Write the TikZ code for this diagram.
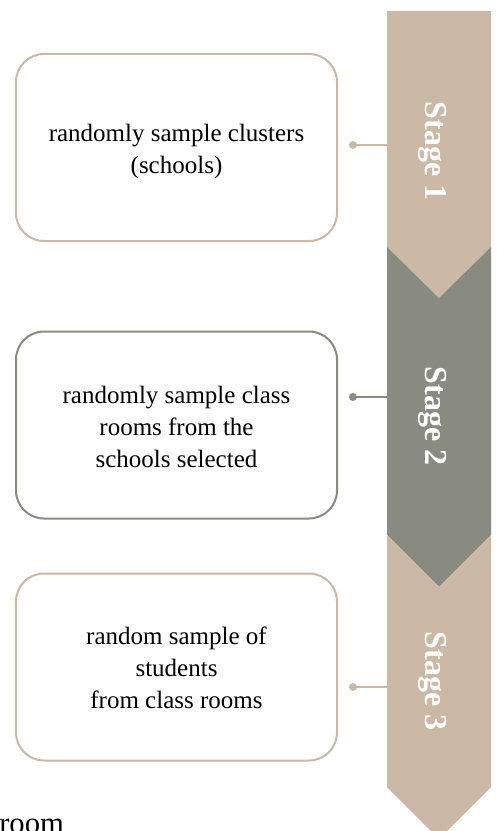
\documentclass[tikz,border=0pt]{standalone}
\usepackage{fontspec}
\setmainfont{Liberation Serif}
\definecolor{sand}{HTML}{CBB9A6}
\definecolor{slate}{HTML}{8A8B80}
\begin{document}
\begin{tikzpicture}[x=0.75pt,y=-0.75pt,
  stepframe/.style={draw=#1, line width=1.5pt, rounded corners=21pt,
    minimum width=240.75pt, minimum height=140.25pt, inner sep=0pt},
  boxtext/.style={align=center, font=\fontsize{18.75}{24}\selectfont, inner sep=0pt},
  stagelabel/.style={rotate=-90, text=white, inner sep=0pt,
    font=\bfseries\fontsize{24}{28}\selectfont},
  link/.style={draw=#1, line width=1.5pt},
  dotmark/.style={circle, fill=#1, minimum size=6pt, inner sep=0pt}]
\useasboundingbox (0,0) rectangle (496,831);

% chevron column
\fill[sand]  (387,11) -- (491,11) -- (491,247) -- (439,298) -- (387,247) -- cycle;
\fill[slate] (387,247) -- (439,298) -- (491,247) -- (491,535) -- (439,587) -- (387,535) -- cycle;
\fill[sand]  (387,535) -- (439,587) -- (491,535) -- (491,787) -- (439,839) -- (387,787) -- cycle;

\node[stagelabel] (st1) at (433,151) {Stage 1};
\node[stagelabel] (st2) at (433,416) {Stage 2};
\node[stagelabel] (st3) at (433,681) {Stage 3};

% description boxes
\node[stepframe=sand]  (b1) at (176.5,147.5) {};
\node[stepframe=slate] (b2) at (176.5,425) {};
\node[stepframe=sand]  (b3) at (176.5,667) {};

\node[boxtext] (t1) at (176.5,151.5) {randomly sample clusters\\(schools)};
\node[boxtext] (t2) at (176.5,426.5) {randomly sample class\\rooms from the\\schools selected};
\node[boxtext] (t3) at (176.5,668) {random sample of\\students\\from class rooms};

% connectors from boxes to stages
\coordinate (e1) at (387,145);
\coordinate (e2) at (387,397);
\coordinate (e3) at (387,687);
\node[dotmark=sand]  (d1) at (353,145) {};
\node[dotmark=slate] (d2) at (353,397) {};
\node[dotmark=sand]  (d3) at (353,687) {};
\draw[link=sand]  (d1.center) -- (e1);
\draw[link=slate] (d2.center) -- (e2);
\draw[link=sand]  (d3.center) -- (e3);

\node[anchor=base west, inner sep=0pt, font=\fontsize{23}{28}\selectfont] (rm) at (-1,833) {room};
\end{tikzpicture}
\end{document}
